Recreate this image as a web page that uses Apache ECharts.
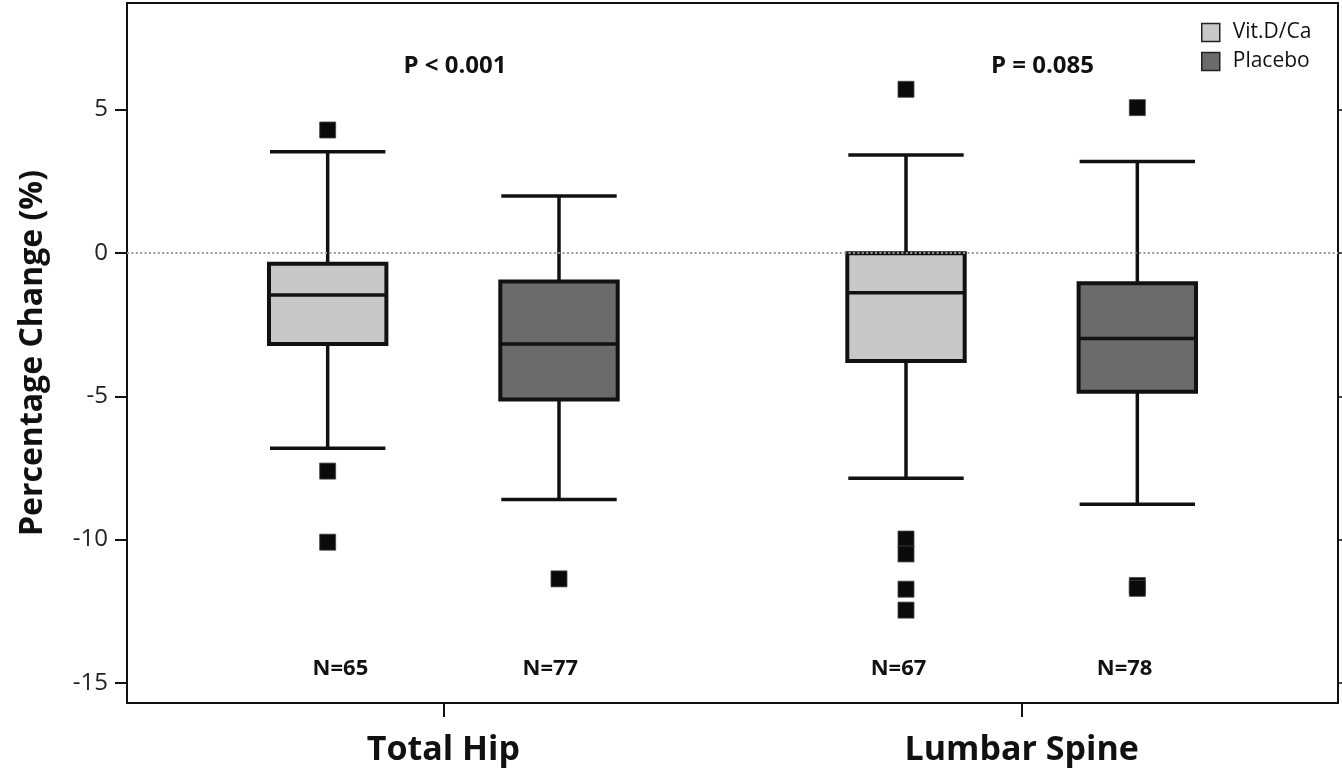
<!DOCTYPE html>
<html>
<head>
<meta charset="utf-8">
<script src="https://cdn.jsdelivr.net/npm/echarts@6/dist/echarts.min.js"></script>
<style>html,body{margin:0;padding:0;background:#fff;}#c{width:1342px;height:773px;}</style>
</head>
<body>
<div id="c"></div>
<script>
// ---- data ----
const categories = ['Total Hip', 'Lumbar Spine'];
const groups = ['Vit.D/Ca', 'Placebo'];
// [low whisker, Q1, median, Q3, high whisker] per category
const vitBox = [[-6.81, -3.18, -1.47, -0.38, 3.53], [-7.86, -3.77, -1.39, -0.01, 3.42]];
const plaBox = [[-8.60, -5.11, -3.18, -1.00, 1.99], [-8.77, -4.84, -2.98, -1.06, 3.19]];
const vitOutliers = [[4.29, -7.61, -10.09], [5.71, -9.98, -10.50, -11.73, -12.46]];
const plaOutliers = [[-11.37], [5.07, -11.60, -11.70]];
const vitN = ['N=65', 'N=67'];
const plaN = ['N=77', 'N=78'];
const pValues = ['P < 0.001', 'P = 0.085'];
const yTicks = [-15, -10, -5, 0, 5];

// ---- layout helpers ----
const OFF = 0.2, BOXW = 0.203;
const FONT = 'Open Sans';
const catPos = categories.map((c, i) => i + 1);

function boxData(arr, sign) {
  return arr.map((b, i) => [catPos[i] + sign * OFF].concat(b));
}
function outData(arr, sign) {
  const out = [];
  arr.forEach((vals, i) => vals.forEach(v => out.push([catPos[i] + sign * OFF, v])));
  return out;
}
function renderBox(fill) {
  return function (params, api) {
    const x = api.value(0);
    const lo = api.coord([x, api.value(1)]);
    const q1 = api.coord([x, api.value(2)]);
    const md = api.coord([x, api.value(3)]);
    const q3 = api.coord([x, api.value(4)]);
    const hi = api.coord([x, api.value(5)]);
    const half = api.size([BOXW, 0])[0] / 2;
    const cx = lo[0];
    const ls = {stroke: '#111', lineWidth: 3.5};
    return {
      type: 'group',
      children: [
        {type: 'line', shape: {x1: cx, y1: q3[1], x2: cx, y2: hi[1]}, style: ls},
        {type: 'line', shape: {x1: cx, y1: q1[1], x2: cx, y2: lo[1]}, style: ls},
        {type: 'line', shape: {x1: cx - half + 1, y1: hi[1], x2: cx + half - 1, y2: hi[1]}, style: ls},
        {type: 'line', shape: {x1: cx - half + 1, y1: lo[1], x2: cx + half - 1, y2: lo[1]}, style: ls},
        {type: 'rect', shape: {x: cx - half, y: q3[1], width: 2 * half, height: q1[1] - q3[1]},
          style: {fill: fill, stroke: '#111', lineWidth: 4}},
        {type: 'line', shape: {x1: cx - half, y1: md[1], x2: cx + half, y2: md[1]}, style: ls}
      ]
    };
  };
}
function textSeries(name, items, yVal, size) {
  return {
    type: 'custom', name: name, silent: true, z: 5,
    data: items.map(it => [it.x, yVal]),
    renderItem: function (params, api) {
      const p = api.coord([api.value(0), api.value(1)]);
      return {type: 'text', x: p[0], y: p[1],
        style: {text: items[params.dataIndex].t, fill: '#111', font: 'bold ' + size + 'px ' + FONT, align: 'center', verticalAlign: 'middle'}};
    }
  };
}
// N labels sit slightly inward of each box
const N_SHIFT = [[-0.178, 0.185], [-0.213, 0.178]];
const nItems = [];
catPos.forEach((c, i) => {
  nItems.push({x: c + N_SHIFT[i][0], t: vitN[i]});
  nItems.push({x: c + N_SHIFT[i][1], t: plaN[i]});
});
const P_SHIFT = [0.02, 0.036];
const pItems = catPos.map((c, i) => ({x: c + P_SHIFT[i], t: pValues[i]}));

const chart = echarts.init(document.getElementById('c'), null, {renderer: 'canvas'});
chart.setOption({
  animation: false,
  backgroundColor: '#fff',
  grid: {left: 127, right: 4, top: 3, bottom: 70, containLabel: false},
  legend: {
    data: groups, orient: 'vertical', left: 1196, top: 17,
    icon: 'rect', itemWidth: 18, itemHeight: 18, itemGap: 8,
    itemStyle: {borderColor: '#222', borderWidth: 1.5},
    textStyle: {fontFamily: FONT, fontSize: 21, color: '#111', padding: [0, 0, 0, 8]}
  },
  xAxis: [{
    type: 'value', min: 0.453, max: 2.547, position: 'bottom',
    splitLine: {show: false},
    axisLine: {show: true, onZero: false, lineStyle: {color: '#111', width: 2}},
    axisTick: {show: true, length: 14, lineStyle: {color: '#111', width: 2}, customValues: catPos},
    axisLabel: {show: true, customValues: catPos, margin: 30,
      formatter: v => categories[Math.round(v) - 1] || '',
      fontFamily: FONT, fontSize: 34, fontWeight: 'bold', color: '#111'}
  }, {
    type: 'value', min: 0.453, max: 2.547, position: 'top',
    splitLine: {show: false},
    axisLine: {show: true, onZero: false, lineStyle: {color: '#111', width: 2}},
    axisTick: {show: false}, axisLabel: {show: false}
  }],
  yAxis: [{
    type: 'value', min: -15.7, max: 8.72, position: 'left',
    name: 'Percentage Change (%)', nameLocation: 'middle', nameGap: 78,
    nameTextStyle: {fontFamily: FONT, fontSize: 32, fontWeight: 'bold', color: '#111'},
    splitLine: {show: false},
    axisLine: {show: true, onZero: false, lineStyle: {color: '#111', width: 2}},
    axisTick: {show: true, length: 12, customValues: yTicks, lineStyle: {color: '#111', width: 2}},
    axisLabel: {show: true, customValues: yTicks, margin: 19, fontFamily: FONT, fontSize: 24, color: '#222'}
  }, {
    type: 'value', min: -15.7, max: 8.72, position: 'right',
    splitLine: {show: false},
    axisLine: {show: true, onZero: false, lineStyle: {color: '#111', width: 2}},
    axisTick: {show: true, length: 5, customValues: yTicks, lineStyle: {color: '#111', width: 1.5}},
    axisLabel: {show: false}
  }],
  series: [
    {
      type: 'custom', name: groups[0], z: 3,
      itemStyle: {color: '#c8c8c8', borderColor: '#222', borderWidth: 1.5},
      data: boxData(vitBox, -1), renderItem: renderBox('#c8c8c8'),
      markLine: {
        silent: true, symbol: 'none', label: {show: false},
        lineStyle: {color: '#9a9a9a', type: [2, 2.4], width: 2},
        data: [{yAxis: 0}]
      }
    },
    {
      type: 'custom', name: groups[1], z: 3,
      itemStyle: {color: '#6b6b6b', borderColor: '#222', borderWidth: 1.5},
      data: boxData(plaBox, 1), renderItem: renderBox('#6b6b6b')
    },
    {
      type: 'scatter', name: 'outliers', z: 4, symbol: 'rect', symbolSize: 16,
      itemStyle: {color: '#0a0a0a', borderColor: '#444', borderWidth: 0.8, opacity: 1},
      data: outData(vitOutliers, -1).concat(outData(plaOutliers, 1))
    },
    textSeries('nlabels', nItems, -14.52, 22),
    textSeries('plabels', pItems, 6.5, 24)
  ]
});
</script>
</body>
</html>
